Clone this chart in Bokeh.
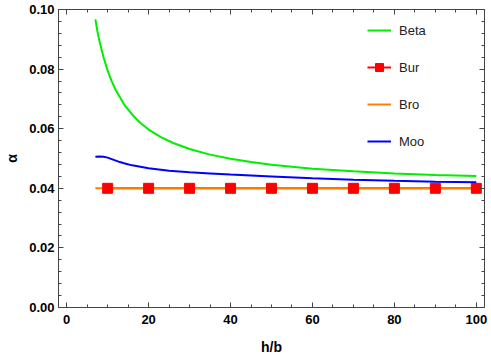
from bokeh.plotting import figure
from bokeh.models import (Range1d, SingleIntervalTicker, LinearAxis, Legend, LegendItem,
                          CustomJSTickFormatter)
from bokeh.embed import file_html
from bokeh.resources import INLINE

# ---- data ----
beta_x = [7, 7.5, 8, 9, 10, 11, 12, 14, 16, 18, 20, 23, 26, 30, 35, 40, 45, 50, 60, 70, 80, 90, 100]
beta_y = [0.0967, 0.0927, 0.0894, 0.0839, 0.0795, 0.0759, 0.0729, 0.0682, 0.0647, 0.0619, 0.0597,
          0.0572, 0.0552, 0.0532, 0.0513, 0.0499, 0.0488, 0.0479, 0.0466, 0.0457, 0.0450, 0.0445, 0.0441]

moo_x = [7, 8, 9, 10, 11, 12, 13, 14, 16, 18, 20, 25, 30, 35, 40, 50, 60, 70, 80, 90, 100]
moo_y = [0.0506, 0.0507, 0.0506, 0.0503, 0.0498, 0.0493, 0.0488, 0.0484, 0.0477, 0.0472, 0.0467,
         0.0459, 0.0454, 0.0450, 0.0446, 0.0440, 0.0434, 0.0429, 0.0425, 0.0422, 0.0420]

bur_x = [10, 20, 30, 40, 50, 60, 70, 80, 90, 100]
bur_y = [0.04, 0.04, 0.04, 0.04, 0.04, 0.04, 0.04, 0.04, 0.04, 0.04]

bro_x = [7, 100]
bro_y = [0.04, 0.04]

x_ticks = [0, 20, 40, 60, 80, 100]
y_ticks = [0.0, 0.02, 0.04, 0.06, 0.08, 0.10]
y_tick_labels = ["0.00", "0.02", "0.04", "0.06", "0.08", "0.10"]

series_names = ["Beta", "Bur", "Bro", "Moo"]

# ---- figure ----
p = figure(width=491, height=357, output_backend="svg", toolbar_location=None,
           x_range=Range1d(-2, 102), y_range=Range1d(0, 0.1),
           min_border_left=58, min_border_right=7, min_border_top=9, min_border_bottom=50)
p.background_fill_color = "white"
p.border_fill_color = "white"
p.grid.visible = False
p.outline_line_color = "#444444"
p.outline_line_width = 1

xt = SingleIntervalTicker(interval=20, num_minor_ticks=4)
yt = SingleIntervalTicker(interval=0.02, num_minor_ticks=5)

FONT = "Liberation Sans"

def style_axis(ax, labels=True):
    ax.axis_line_color = "#444444"
    ax.major_tick_line_color = "#444444"
    ax.minor_tick_line_color = "#444444"
    ax.major_tick_in = 5
    ax.major_tick_out = 0
    ax.minor_tick_in = 3
    ax.minor_tick_out = 0
    if labels:
        ax.major_label_text_font = FONT
        ax.major_label_text_font_style = "bold"
        ax.major_label_text_font_size = "13px"
        ax.major_label_text_color = "black"
        ax.axis_label_text_font = FONT
        ax.axis_label_text_font_style = "bold"
        ax.axis_label_text_font_size = "14px"
        ax.axis_label_text_color = "black"
    else:
        ax.formatter = CustomJSTickFormatter(code="return ''")
        ax.major_label_standoff = 0
        ax.axis_label = None

p.xaxis.ticker = xt
p.yaxis.ticker = yt
p.yaxis.major_label_overrides = {t: l for t, l in zip(y_ticks, y_tick_labels)}
p.xaxis.axis_label = "h/b"
p.yaxis.axis_label = "α"
for ax in p.xaxis + p.yaxis:
    style_axis(ax)
p.xaxis.major_label_standoff = 7
p.xaxis.axis_label_standoff = 12
p.yaxis.major_label_standoff = 4
p.yaxis.axis_label_standoff = 6

top = LinearAxis(ticker=SingleIntervalTicker(interval=20, num_minor_ticks=4))
right = LinearAxis(ticker=SingleIntervalTicker(interval=0.02, num_minor_ticks=5))
style_axis(top, labels=False)
style_axis(right, labels=False)
p.add_layout(top, "above")
p.add_layout(right, "right")

# ---- series ----
r_beta = p.line(beta_x, beta_y, line_color="#00ee00", line_width=2)
r_bur_line = p.line(bur_x, bur_y, line_color="red", line_width=2)
r_bro = p.line(bro_x, bro_y, line_color="#ff8000", line_width=2)
r_bur_pts = p.scatter(bur_x, bur_y, marker="square", size=10, fill_color="red", line_color="red")
r_moo = p.line(moo_x, moo_y, line_color="blue", line_width=2)

legend = Legend(items=[
    LegendItem(label=series_names[0], renderers=[r_beta]),
    LegendItem(label=series_names[1], renderers=[r_bur_line, r_bur_pts]),
    LegendItem(label=series_names[2], renderers=[r_bro]),
    LegendItem(label=series_names[3], renderers=[r_moo]),
], location=(309, 156))
legend.border_line_color = None
legend.background_fill_alpha = 0
legend.padding = 0
legend.margin = 0
legend.spacing = 17
legend.glyph_width = 24
legend.glyph_height = 20
legend.label_height = 20
legend.label_standoff = 8
legend.label_text_font = FONT
legend.label_text_font_size = "13px"
legend.label_text_color = "#222222"
p.add_layout(legend, "center")

open("out.html", "w").write(file_html(p, INLINE))
